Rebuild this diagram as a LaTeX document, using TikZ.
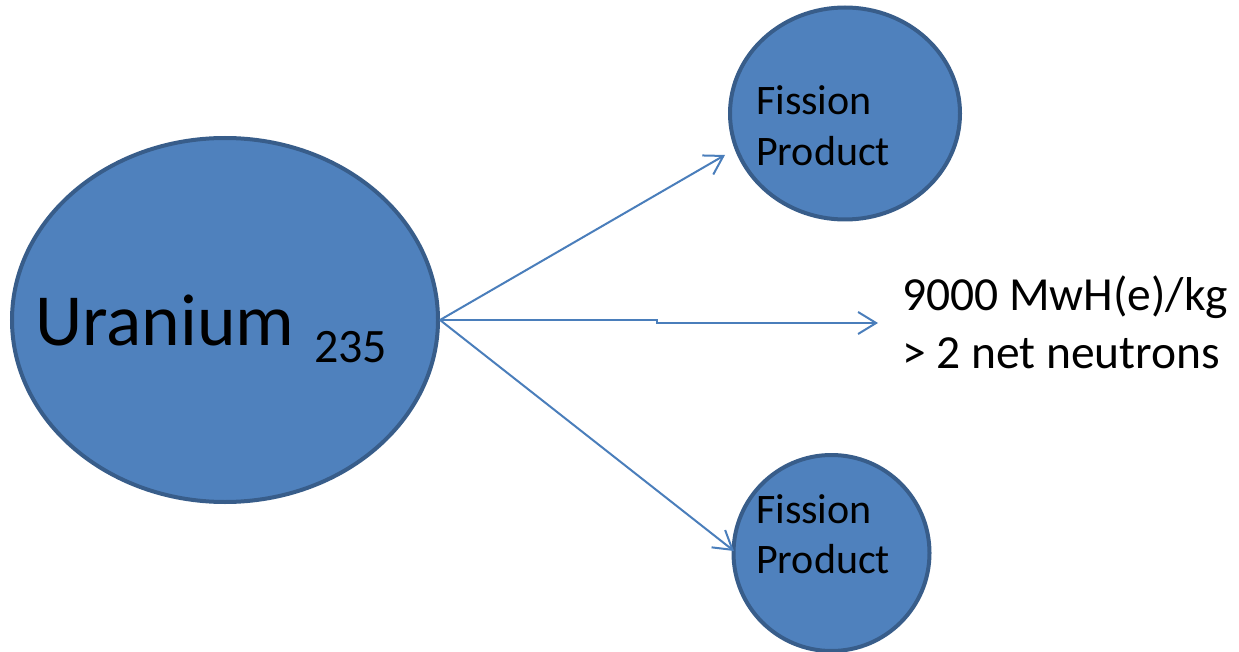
\documentclass[tikz,border=0pt]{standalone}
\usepackage{fontspec}
\setmainfont{Carlito}
\usetikzlibrary{arrows.meta,shapes.geometric}
\definecolor{nucfill}{HTML}{4F81BD}
\definecolor{nucedge}{HTML}{385D8A}
\definecolor{flow}{HTML}{4A7EBB}
\tikzset{
  nucleus/.style={ellipse, draw=nucedge, fill=nucfill, line width=4pt, inner sep=0pt},
  txt/.style={anchor=base west, inner sep=0pt, text=black},
  flowline/.style={draw=flow, line width=2pt, -{Straight Barb[length=18pt,width=22pt,line width=2pt]}},
}
\begin{document}
\begin{tikzpicture}[x=1pt,y=-1pt]
  \useasboundingbox (0,0) rectangle (1239,652);

  % nuclei
  \node[nucleus, minimum width=426pt, minimum height=364pt] (u235) at (225,320) {};
  \node[nucleus, minimum width=230pt, minimum height=212pt] (fp1) at (845,113.5) {};
  \node[nucleus, minimum width=196pt, minimum height=196pt] (fp2) at (831.5,553) {};

  % texts
  \node[txt, font=\fontsize{73.5}{88}\selectfont] (utxt) at (35,345) {Uranium};
  \node[txt, font=\fontsize{48}{58}\selectfont] (usub) at (314,362) {235};
  \node[txt, font=\fontsize{42}{50}\selectfont] (fp1a) at (756,115) {Fission};
  \node[txt, font=\fontsize{42}{50}\selectfont] (fp1b) at (756,166) {Product};
  \node[txt, font=\fontsize{42}{50}\selectfont] (fp2a) at (756,523) {Fission};
  \node[txt, font=\fontsize{42}{50}\selectfont] (fp2b) at (756,573) {Product};
  \node[txt, font=\fontsize{47.5}{57}\selectfont] (energy) at (902,310) {9000 MwH(e)/kg};
  \node[txt, font=\fontsize{47.5}{57}\selectfont] (neutrons) at (902,368) {> 2 net neutrons};

  % arrow ends
  \coordinate (tip1) at (725,155);
  \coordinate (tip2) at (878,323);
  \coordinate (tip3) at (734,551);

  % arrows
  \draw[flowline] (u235.east) -- (tip1);
  \draw[flowline] (u235.east) -- (657,320) -- (657,323) -- (tip2);
  \draw[flowline] (u235.east) -- (tip3);
\end{tikzpicture}
\end{document}
